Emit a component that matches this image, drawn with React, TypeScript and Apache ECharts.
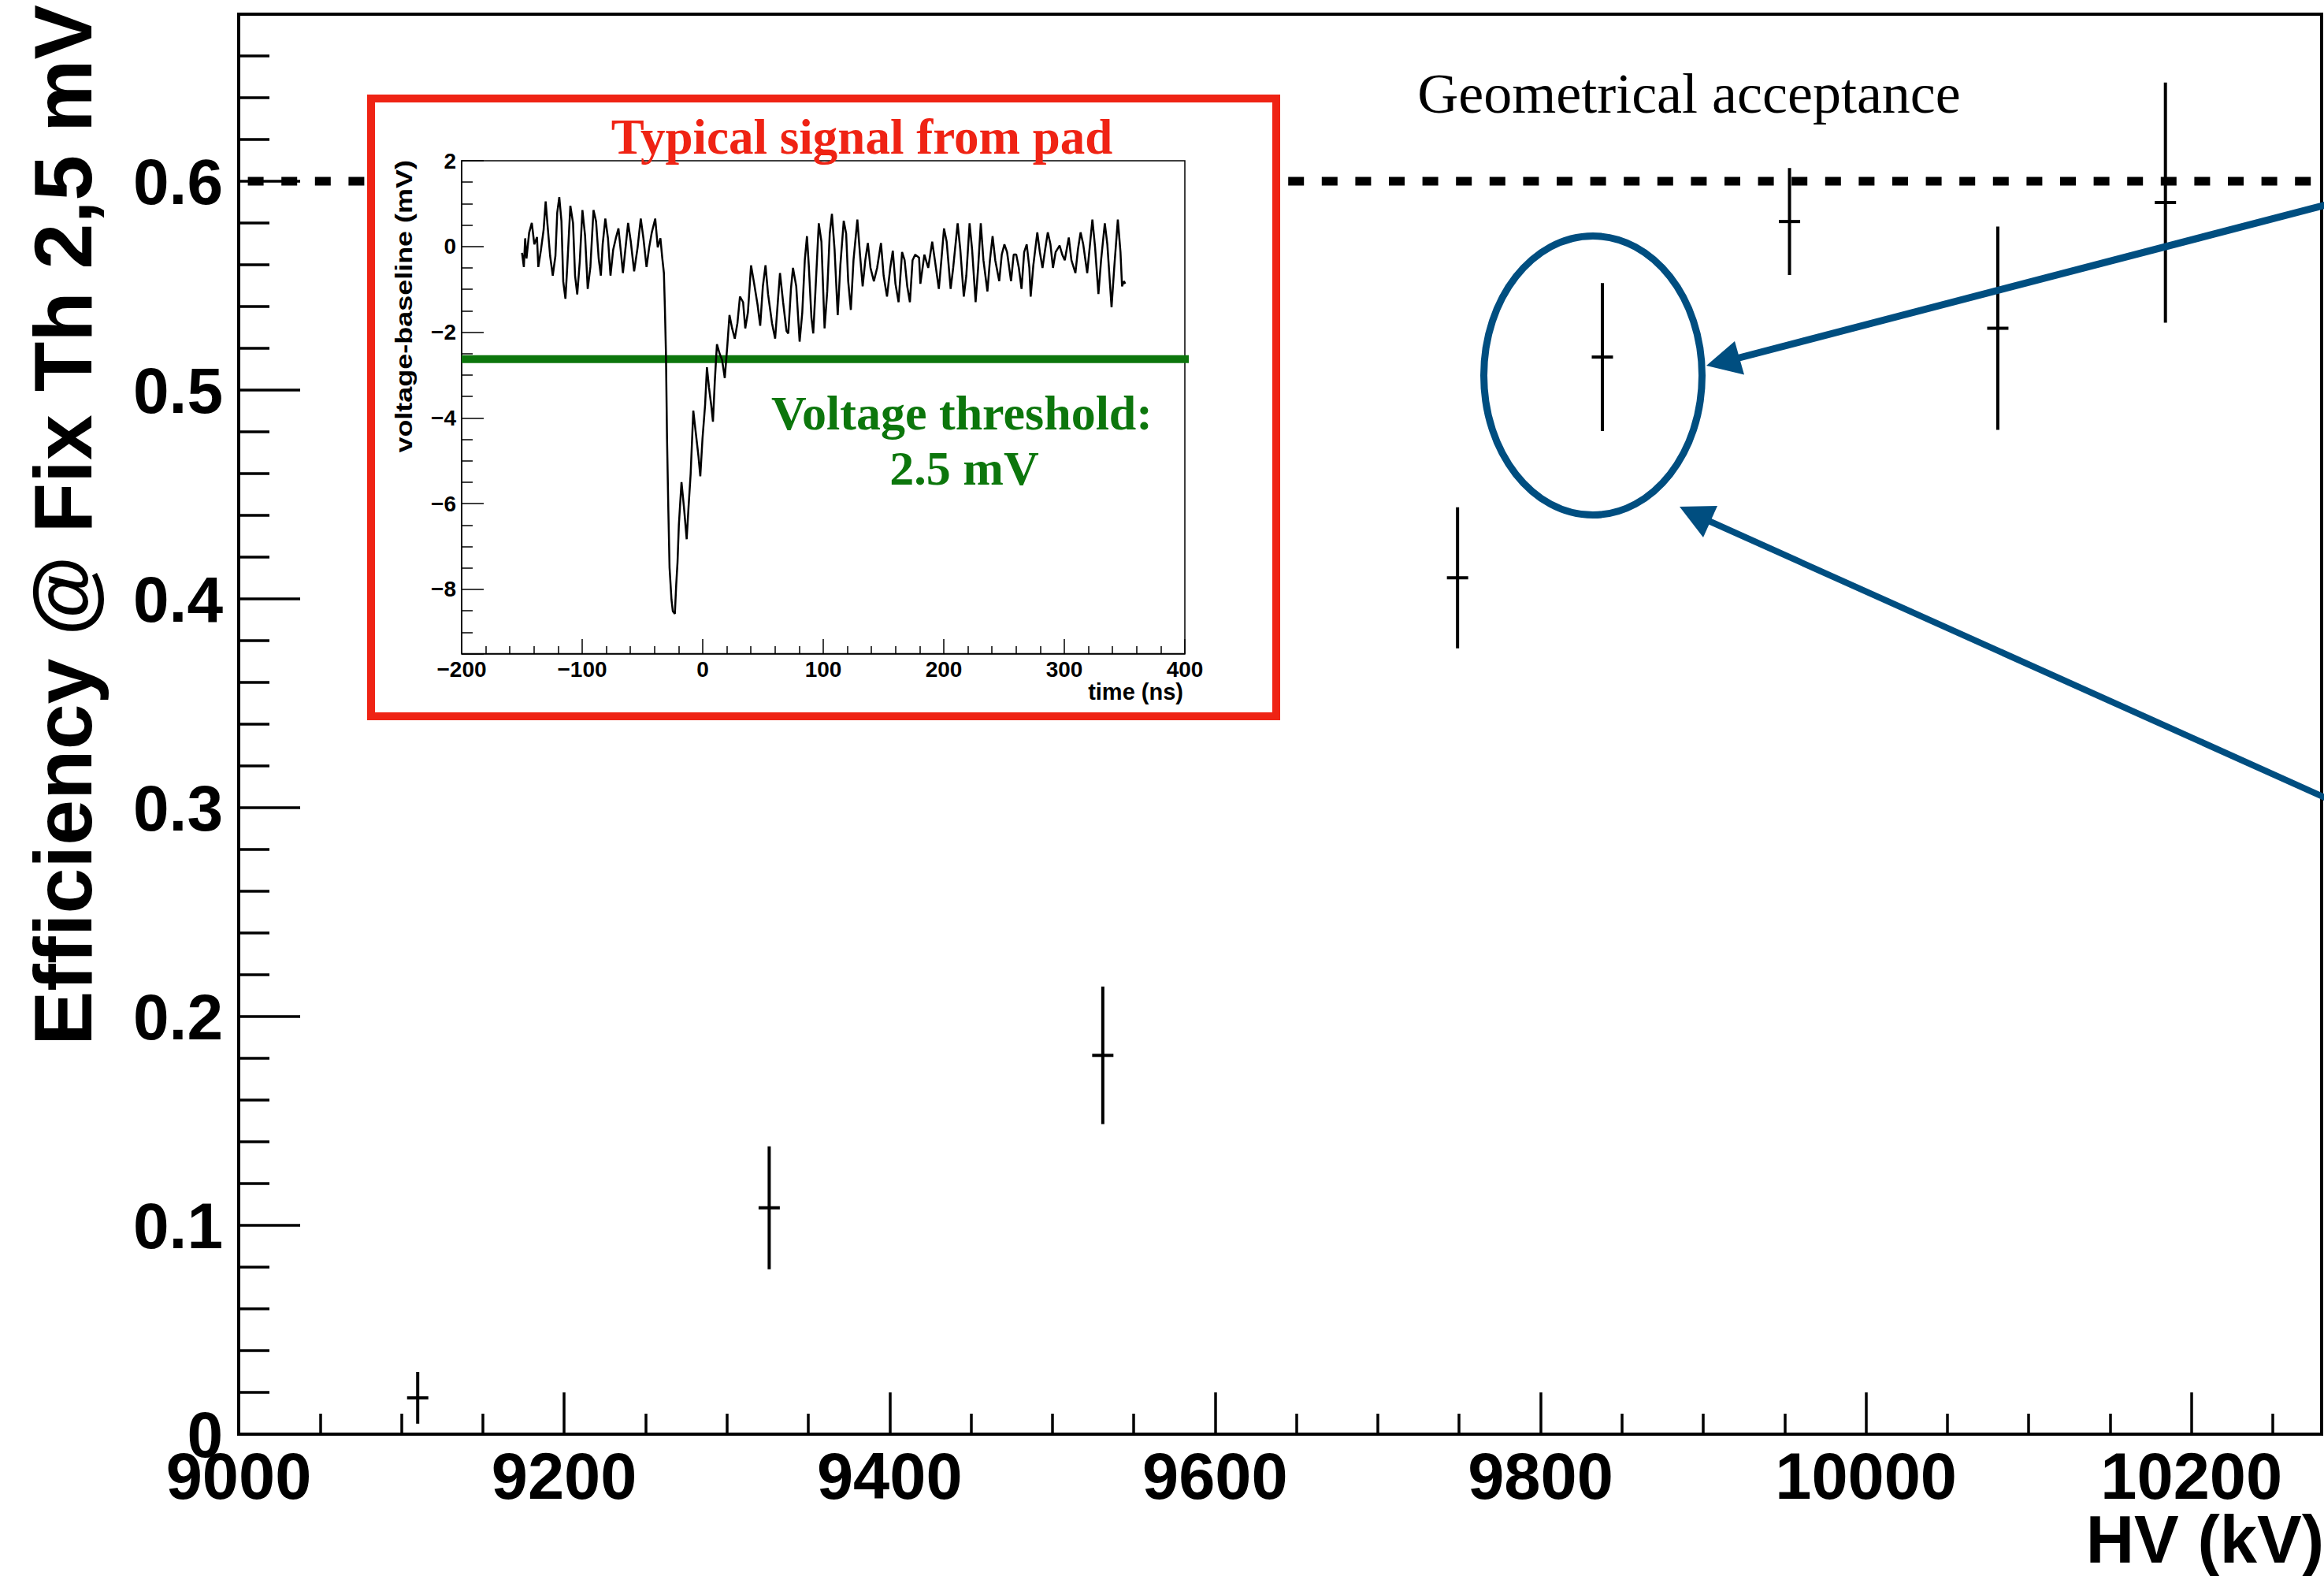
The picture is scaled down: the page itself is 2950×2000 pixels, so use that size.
import React, { useEffect, useRef } from "react";
import * as echarts from "echarts";

// ---------- main plot data ----------
const hvValues = [9110, 9326, 9531, 9749, 9838, 9953, 10081, 10184];
const efficiency = [0.0174, 0.1084, 0.1814, 0.4101, 0.5158, 0.5807, 0.5296, 0.5898];
const efficiencyErr = [0.0124, 0.0294, 0.0329, 0.0338, 0.0354, 0.0256, 0.0487, 0.0575];
const hvRange = [9000, 10280];
const effRange = [0, 0.68];
const geometricalAcceptance = 0.6;

// ---------- inset data: typical pad signal (time ns, voltage-baseline mV) ----------
const signalSamples: [number, number][] = [
  [-149.9, -0.15], [-148.4, -0.48], [-147.3, 0.19], [-146.2, -0.28], [-144.0, 0.32], [-141.8, 0.55], [-139.7, 0.05], [-137.5, 0.22], [-136.4, -0.48], [-134.2, -0.08],
  [-132.0, 0.39], [-130.3, 1.05], [-128.8, 0.52], [-126.6, -0.22], [-124.4, -0.68], [-122.2, -0.22], [-120.7, 0.79], [-119.0, 1.15], [-117.2, 0.59], [-115.7, -0.82],
  [-113.9, -1.22], [-112.4, -0.48], [-109.8, 0.95], [-107.6, 0.55], [-105.9, -0.68], [-104.1, -1.12], [-102.0, -0.35], [-99.8, 0.85], [-97.6, 0.25], [-95.4, -0.99],
  [-93.2, -0.48], [-90.6, 0.85], [-88.5, 0.59], [-86.3, -0.28], [-84.5, -0.68], [-83.0, 0.05], [-80.8, 0.65], [-78.6, 0.19], [-76.5, -0.68], [-74.3, -0.08],
  [-72.1, 0.19], [-69.9, 0.42], [-67.8, -0.15], [-66.2, -0.62], [-64.0, -0.02], [-61.9, 0.55], [-59.7, 0.12], [-56.9, -0.58], [-54.0, -0.02], [-51.4, 0.65],
  [-49.2, 0.19], [-46.6, -0.48], [-44.4, -0.02], [-42.3, 0.32], [-39.4, 0.65], [-37.3, -0.02], [-35.1, 0.19], [-33.5, -0.28], [-32.2, -0.62], [-31.4, -1.42],
  [-30.5, -2.49], [-29.6, -4.49], [-28.5, -6.17], [-27.5, -7.5], [-25.9, -8.24], [-24.8, -8.51], [-23.1, -8.57], [-22.0, -7.9], [-20.9, -7.37], [-19.8, -6.5],
  [-17.6, -5.5], [-15.5, -6.1], [-13.3, -6.83], [-11.8, -6.1], [-10.0, -5.3], [-7.8, -3.83], [-5.7, -4.36], [-3.5, -4.9], [-2.0, -5.36], [-0.2, -4.49],
  [2.0, -3.69], [3.5, -2.82], [5.2, -3.29], [7.0, -3.69], [8.5, -4.09], [10.0, -3.16], [11.8, -2.28], [13.9, -2.49], [16.1, -2.65], [18.3, -3.07],
  [20.5, -2.28], [22.2, -1.6], [24.4, -1.91], [26.6, -2.15], [28.8, -1.79], [30.9, -1.17], [33.5, -1.3], [35.3, -1.91], [37.5, -1.54], [40.1, -0.44],
  [42.7, -0.87], [45.5, -1.36], [47.7, -1.85], [49.9, -0.93], [52.1, -0.44], [54.2, -1.11], [57.5, -1.79], [60.1, -2.15], [62.3, -1.3], [64.1, -0.62],
  [66.7, -1.3], [69.5, -1.97], [71.0, -2.03], [73.2, -0.99], [74.9, -0.5], [77.6, -0.93], [80.4, -2.22], [82.6, -1.54], [84.7, -0.32], [86.5, 0.24],
  [88.0, -0.44], [90.2, -1.66], [91.7, -2.03], [93.5, -1.05], [96.3, 0.54], [98.5, 0.11], [101.1, -1.91], [103.3, -1.05], [105.4, 0.3], [107.2, 0.76],
  [109.4, -0.07], [112.0, -1.6], [114.2, -0.44], [117.0, 0.6], [119.0, 0.3], [120.7, -0.81], [122.9, -1.48], [125.1, -0.32], [128.3, 0.63], [130.5, -0.19],
  [132.7, -0.93], [134.9, -0.32], [137.0, 0.08], [139.2, -0.5], [142.0, -0.81], [144.7, -0.5], [147.9, 0.08], [150.1, -0.68], [152.9, -1.17], [155.6, -0.5],
  [157.7, -0.1], [159.9, -0.87], [162.5, -1.3], [165.4, -0.13], [167.5, -0.32], [169.7, -0.93], [171.9, -1.3], [174.1, -0.32], [176.3, -0.19], [179.5, -0.26],
  [180.6, -0.87], [183.9, -0.19], [187.1, -0.5], [190.4, 0.11], [192.6, -0.32], [195.9, -0.99], [198.0, -0.32], [200.2, 0.42], [202.4, 0.11], [205.7, -0.99],
  [207.8, -0.5], [211.5, 0.54], [213.7, -0.07], [216.6, -1.17], [218.7, -0.68], [221.4, 0.54], [223.5, -0.07], [226.4, -1.3], [228.5, -0.5], [230.7, 0.54],
  [232.9, -0.32], [236.2, -1.05], [238.3, -0.32], [240.5, 0.24], [242.7, -0.32], [246.0, -0.81], [248.1, -0.19], [250.3, 0.05], [252.5, -0.13], [255.8, -0.81],
  [258.0, -0.19], [260.1, -0.19], [262.3, -0.5], [264.5, -0.99], [266.7, -0.13], [268.8, 0.05], [271.0, -0.5], [272.1, -1.17], [274.3, -0.44], [277.6, 0.33],
  [279.7, -0.13], [281.9, -0.5], [284.1, -0.07], [286.3, 0.33], [288.5, 0.05], [290.6, -0.5], [292.8, -0.13], [296.1, 0.02], [298.3, -0.19], [300.4, -0.32],
  [303.7, 0.21], [305.9, -0.32], [309.2, -0.62], [311.3, -0.07], [313.5, 0.33], [315.7, 0.05], [319.0, -0.62], [321.1, -0.01], [323.3, 0.63], [325.5, -0.01],
  [328.3, -1.11], [330.5, -0.32], [333.6, 0.54], [335.7, 0.05], [339.2, -1.42], [341.4, -0.5], [344.4, 0.63], [346.6, -0.13], [347.9, -0.93], [349.5, -0.81],
  [350.5, -0.87],
];
const timeRange = [-200, 400];
const voltageRange = [-9.5, 2];
const thresholdVoltage = -2.63;
const thresholdSpan = [-200, 411];

// ---------- text ----------
const yTitle = "Efficiency @ Fix Th 2,5 mV";
const xTitle = "HV (kV)";
const insetYTitle = "voltage-baseline (mV)";
const insetXTitle = "time (ns)";
const insetHeader = "Typical signal from pad";
const thresholdLines = ["Voltage threshold:", "2.5 mV"];
const acceptanceLabel = "Geometrical acceptance";

const SANS = "'Liberation Sans', Arial, Helvetica, sans-serif";
const SERIF = "'Liberation Serif', 'Times New Roman', serif";
const RED = "#ef2314";
const GREEN = "#0c760c";
const BLUE = "#004e80";

const signed = (v: number) => {
  if (Math.abs(v) < 1e-9) return "0";
  return v < 0 ? "\u2212" + String(Math.abs(v)) : String(v);
};

function txt(text: string, x: number, y: number, size: number, opts: any = {}) {
  const align = opts.align || "center";
  const valign = opts.valign || "middle";
  return {
    type: "text",
    x,
    y,
    z: opts.z ?? 20,
    rotation: opts.rotation || 0,
    scaleX: opts.scaleX || 1,
    silent: true,
    style: {
      text,
      fontSize: size,
      fontFamily: opts.family || SANS,
      fontWeight: opts.weight || "bold",
      fill: opts.color || "#000",
      align,
      verticalAlign: valign,
      textAlign: align,
      textVerticalAlign: valign,
    },
  };
}

export default function App() {
  const ref = useRef<HTMLDivElement>(null);

  useEffect(() => {
    if (!ref.current) return;
    const chart = echarts.init(ref.current, undefined, { renderer: "svg" });

    const tickStyle = (w: number) => ({ color: "#000", width: w });

    const option: any = {
      animation: false,
      backgroundColor: "#fff",
      grid: [
        {
          left: 303, top: 18, right: 3, bottom: 180,
          show: true, borderColor: "#000", borderWidth: 4, backgroundColor: "transparent",
          containLabel: false, outerBoundsMode: "none", z: 0,
        },
        {
          left: 586, top: 204, width: 918, height: 625.5,
          show: true, borderColor: "#000", borderWidth: 1.5, backgroundColor: "transparent",
          containLabel: false, outerBoundsMode: "none", z: 10,
        },
      ],
      xAxis: [
        {
          gridIndex: 0, type: "value", min: hvRange[0], max: hvRange[1], interval: 200,
          axisLine: { show: true, onZero: false, lineStyle: tickStyle(4) },
          axisTick: { show: true, inside: true, length: 53, lineStyle: tickStyle(3.5) },
          minorTick: { show: true, splitNumber: 4, length: 26, lineStyle: tickStyle(3.5) },
          axisLabel: {
            show: true, margin: 12, fontSize: 83, fontWeight: "bold", fontFamily: SANS, color: "#000",
            showMaxLabel: false, showMinLabel: true, formatter: (v: number) => String(v),
          },
          splitLine: { show: false }, minorSplitLine: { show: false },
        },
        {
          gridIndex: 1, type: "value", min: timeRange[0], max: timeRange[1], interval: 100, z: 10,
          axisLine: { show: true, onZero: false, lineStyle: tickStyle(1.5) },
          axisTick: { show: true, inside: true, length: 18.5, lineStyle: tickStyle(1.5) },
          minorTick: { show: true, splitNumber: 5, length: 9.5, lineStyle: tickStyle(1.5) },
          axisLabel: {
            show: true, margin: 6, fontSize: 28, fontWeight: "bold", fontFamily: SANS, color: "#000",
            showMaxLabel: true, showMinLabel: true, formatter: (v: number) => signed(v),
          },
          splitLine: { show: false }, minorSplitLine: { show: false },
        },
      ],
      yAxis: [
        {
          gridIndex: 0, type: "value", min: effRange[0], max: effRange[1], interval: 0.1,
          axisLine: { show: true, onZero: false, lineStyle: tickStyle(4) },
          axisTick: { show: true, inside: true, length: 78, lineStyle: tickStyle(3.5) },
          minorTick: { show: true, splitNumber: 5, length: 39, lineStyle: tickStyle(3.5) },
          axisLabel: {
            show: true, margin: 20, fontSize: 82, fontWeight: "bold", fontFamily: SANS, color: "#000",
            showMaxLabel: false, showMinLabel: true,
            formatter: (v: number) => String(Math.round(v * 100) / 100),
          },
          splitLine: { show: false }, minorSplitLine: { show: false },
        },
        {
          // inset voltage axis, drawn on negated values so ticks start at a multiple of the interval
          gridIndex: 1, type: "value", inverse: true,
          min: -voltageRange[1], max: -voltageRange[0], interval: 2, z: 10,
          axisLine: { show: true, onZero: false, lineStyle: tickStyle(1.5) },
          axisTick: { show: true, inside: true, length: 28, lineStyle: tickStyle(1.5) },
          minorTick: { show: true, splitNumber: 4, length: 14, lineStyle: tickStyle(1.5) },
          axisLabel: {
            show: true, margin: 7, fontSize: 28, fontWeight: "bold", fontFamily: SANS, color: "#000",
            showMaxLabel: false, showMinLabel: true, formatter: (v: number) => signed(-v),
          },
          splitLine: { show: false }, minorSplitLine: { show: false },
        },
      ],
      series: [
        {
          type: "line", xAxisIndex: 0, yAxisIndex: 0, z: 2, silent: true,
          data: [[hvRange[0], geometricalAcceptance], [hvRange[1], geometricalAcceptance]],
          symbol: "none",
          lineStyle: { color: "#000", width: 11, type: [20, 22.6], dashOffset: 30.7, cap: "butt" },
        },
        {
          type: "custom", xAxisIndex: 0, yAxisIndex: 0, z: 3, silent: true, clip: false,
          data: hvValues.map((x, i) => [x, efficiency[i], efficiency[i] - efficiencyErr[i], efficiency[i] + efficiencyErr[i]]),
          encode: { x: 0, y: 1 },
          renderItem: (_p: any, api: any) => {
            const x = api.value(0);
            const c = api.coord([x, api.value(1)]);
            const lo = api.coord([x, api.value(2)]);
            const hi = api.coord([x, api.value(3)]);
            return {
              type: "group",
              children: [
                { type: "line", shape: { x1: c[0], y1: hi[1], x2: c[0], y2: lo[1] }, style: { stroke: "#000", lineWidth: 4 } },
                { type: "line", shape: { x1: c[0] - 13.5, y1: c[1], x2: c[0] + 13.5, y2: c[1] }, style: { stroke: "#000", lineWidth: 4 } },
              ],
            };
          },
        },
        {
          type: "line", xAxisIndex: 1, yAxisIndex: 1, z: 11, silent: true, clip: false,
          data: [[thresholdSpan[0], -thresholdVoltage], [thresholdSpan[1], -thresholdVoltage]],
          symbol: "none",
          lineStyle: { color: GREEN, width: 10 },
        },
        {
          type: "line", xAxisIndex: 1, yAxisIndex: 1, z: 12, silent: true,
          data: signalSamples.map(([t, v]) => [t, -v]),
          symbol: "none", showSymbol: false,
          lineStyle: { color: "#000", width: 2.5 },
        },
      ],
      graphic: [
        {
          type: "rect", z: 5, silent: true,
          shape: { x: 471, y: 125, width: 1149, height: 784 },
          style: { fill: "#fff", stroke: RED, lineWidth: 10 },
        },
        txt(insetHeader, 1094, 174, 63, { family: SERIF, color: RED }),
        txt(thresholdLines[0], 1221, 524, 62, { family: SERIF, color: GREEN }),
        txt(thresholdLines[1], 1224, 594, 62, { family: SERIF, color: GREEN }),
        txt(acceptanceLabel, 2144, 119, 72, { family: SERIF, weight: "normal" }),
        txt(insetXTitle, 1502, 878, 29, { align: "right" }),
        txt(insetYTitle, 513, 203, 29, { align: "right", rotation: Math.PI / 2, scaleX: 1.24 }),
        txt(yTitle, 80, 1327, 104, { align: "left", rotation: Math.PI / 2 }),
        txt(xTitle, 2950, 1953, 85, { align: "right" }),
        {
          type: "ellipse", z: 20, silent: true,
          shape: { cx: 2022, cy: 476.5, rx: 138.5, ry: 177 },
          style: { fill: "none", stroke: BLUE, lineWidth: 9 },
        },
        {
          type: "line", z: 20, silent: true,
          shape: { x1: 2960, y1: 258, x2: 2206, y2: 454.5 },
          style: { stroke: BLUE, lineWidth: 9 },
        },
        {
          type: "polygon", z: 20, silent: true,
          shape: { points: [[2166, 464], [2202, 433], [2214, 475.5]] },
          style: { fill: BLUE },
        },
        {
          type: "line", z: 20, silent: true,
          shape: { x1: 2960, y1: 1016, x2: 2169, y2: 661 },
          style: { stroke: BLUE, lineWidth: 8 },
        },
        {
          type: "polygon", z: 20, silent: true,
          shape: { points: [[2132, 643], [2180, 642], [2162, 682]] },
          style: { fill: BLUE },
        },
      ],
    };

    chart.setOption(option);
    return () => chart.dispose();
  }, []);

  return (
    <div
      ref={ref}
      style={{ position: "fixed", left: 0, top: 0, width: 2950, height: 2000, background: "#fff" }}
    />
  );
}
